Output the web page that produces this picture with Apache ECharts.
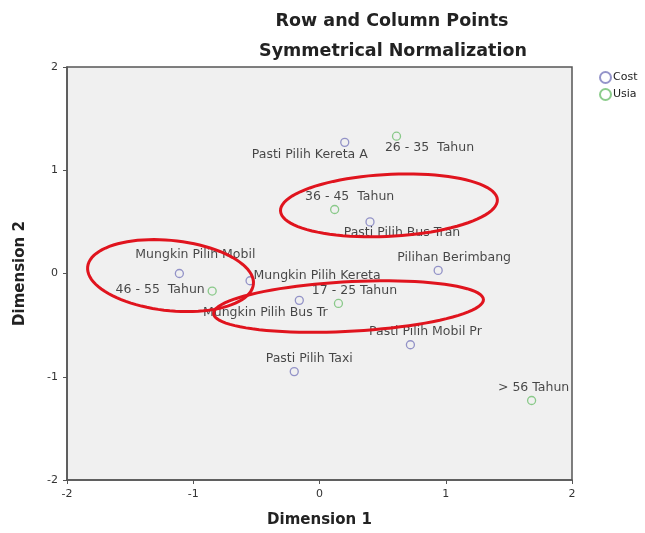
<!DOCTYPE html>
<html><head><meta charset="utf-8">
<script src="https://cdn.jsdelivr.net/npm/echarts@6/dist/echarts.min.js"></script>
<style>html,body{margin:0;padding:0;background:#fff}#c{width:645px;height:533px}</style>
</head><body><div id="c"></div>
<script>
// ---- data ----
const costNames = ["Pasti Pilih Kereta A","Pasti Pilih Bus Tran","Pilihan Berimbang","Mungkin Pilih Mobil","Mungkin Pilih Kereta","Mungkin Pilih Bus Tr","Pasti Pilih Mobil Pr","Pasti Pilih Taxi"];
const costDim1 = [0.20, 0.40, 0.94, -1.11, -0.55, -0.16, 0.72, -0.20];
const costDim2 = [1.27, 0.50, 0.03, 0.00, -0.07, -0.26, -0.69, -0.95];
const usiaNames = ["26 - 35  Tahun","36 - 45  Tahun","17 - 25 Tahun","46 - 55  Tahun","> 56 Tahun"];
const usiaDim1 = [0.61, 0.12, 0.15, -0.85, 1.68];
const usiaDim2 = [1.33, 0.62, -0.29, -0.17, -1.23];
const axisTicks = [-2, -1, 0, 1, 2];
// annotation ellipses (data space): center x, center y, radius x, radius y, tilt deg
const ellCx = [0.55, -1.18, 0.23];
const ellCy = [0.66, -0.02, -0.32];
const ellRx = [0.86, 0.66, 1.07];
const ellRy = [0.30, 0.34, 0.24];
const ellTilt = [3, -6, 3];

// label placement (styling)
const costLabelOffset = [[-35,12],[32,11],[16,-13],[16,-19],[67,-5],[-34,12],[15,-13],[15,-13]];
const usiaLabelOffset = [[33,12],[15,-13],[16,-13],[-52,-1],[2,-13]];

const FONT = 'DejaVu Sans';
function mk(names, xs, ys, offs){
  return names.map((n,i)=>({name:n, value:[xs[i], ys[i]],
    label:{show:true, position:'inside', offset:offs[i], formatter:n}}));
}
const chart = echarts.init(document.getElementById('c'));
chart.setOption({
  backgroundColor:'#ffffff',
  animation:false,
  title:[
    {text:'Row and Column Points', left:387, top:7, textAlign:'center',
     textStyle:{fontFamily:FONT, fontWeight:'bold', fontSize:17.5, color:'#222'}},
    {text:'Symmetrical Normalization', left:388, top:37, textAlign:'center',
     textStyle:{fontFamily:FONT, fontWeight:'bold', fontSize:17.5, color:'#222'}}
  ],
  legend:{orient:'vertical', left:594, top:66, itemWidth:11, itemHeight:11, itemGap:4,
    textStyle:{fontFamily:FONT, fontSize:11, color:'#222', padding:[0,0,0,-3]},
    data:[{name:'Cost', icon:'circle'},{name:'Usia', icon:'circle'}]},
  grid:{left:67, right:73, top:67, bottom:50, show:true, backgroundColor:'#f0f0f0',
    borderColor:'#555', borderWidth:1.5},
  xAxis:{type:'value', min:-2, max:2, interval:1, name:'Dimension 1', nameLocation:'middle', nameGap:33,
    nameTextStyle:{fontFamily:FONT, fontWeight:'bold', fontSize:15, color:'#222'},
    axisLine:{show:true, onZero:false, lineStyle:{color:'#555', width:1.5}},
    axisTick:{show:true, length:4, lineStyle:{color:'#555'}},
    axisLabel:{fontFamily:FONT, fontSize:11, color:'#333', margin:9},
    splitLine:{show:false}},
  yAxis:{type:'value', min:-2, max:2, interval:1, name:'Dimension 2', nameLocation:'middle', nameGap:39,
    nameTextStyle:{fontFamily:FONT, fontWeight:'bold', fontSize:15, color:'#222'},
    axisLine:{show:true, onZero:false, lineStyle:{color:'#555', width:1.5}},
    axisTick:{show:true, length:4, lineStyle:{color:'#555'}},
    axisLabel:{fontFamily:FONT, fontSize:11, color:'#333', margin:9},
    splitLine:{show:false}},
  series:[
    {name:'Cost', type:'scatter', symbol:'circle', symbolSize:8,
     itemStyle:{color:'rgba(0,0,0,0)', borderColor:'#7b7bbd', borderWidth:1.3},
     label:{fontFamily:FONT, fontSize:12.5, color:'#1a1a1a'},
     data:mk(costNames,costDim1,costDim2,costLabelOffset), z:3},
    {name:'Usia', type:'scatter', symbol:'circle', symbolSize:8,
     itemStyle:{color:'rgba(0,0,0,0)', borderColor:'#6fbf6f', borderWidth:1.3},
     label:{fontFamily:FONT, fontSize:12.5, color:'#1a1a1a'},
     data:mk(usiaNames,usiaDim1,usiaDim2,usiaLabelOffset), z:3},
    {type:'custom', silent:true, z:5,
     data:ellCx.map((c,i)=>[c, ellCy[i], ellRx[i], ellRy[i], ellTilt[i]]),
     renderItem:function(params, api){
       const c = api.coord([api.value(0), api.value(1)]);
       const s = api.size([api.value(2), api.value(3)]);
       const t = -api.value(4)*Math.PI/180;
       const pts=[];
       for(let k=0;k<90;k++){
         const a=k/90*2*Math.PI;
         const ex=s[0]*Math.cos(a), ey=s[1]*Math.sin(a);
         pts.push([c[0]+ex*Math.cos(t)-ey*Math.sin(t), c[1]+ex*Math.sin(t)+ey*Math.cos(t)]);
       }
       return {type:'polygon', shape:{points:pts}, style:{fill:'none', stroke:'#e0141e', lineWidth:3}};
     }}
  ]
});
</script></body></html>
